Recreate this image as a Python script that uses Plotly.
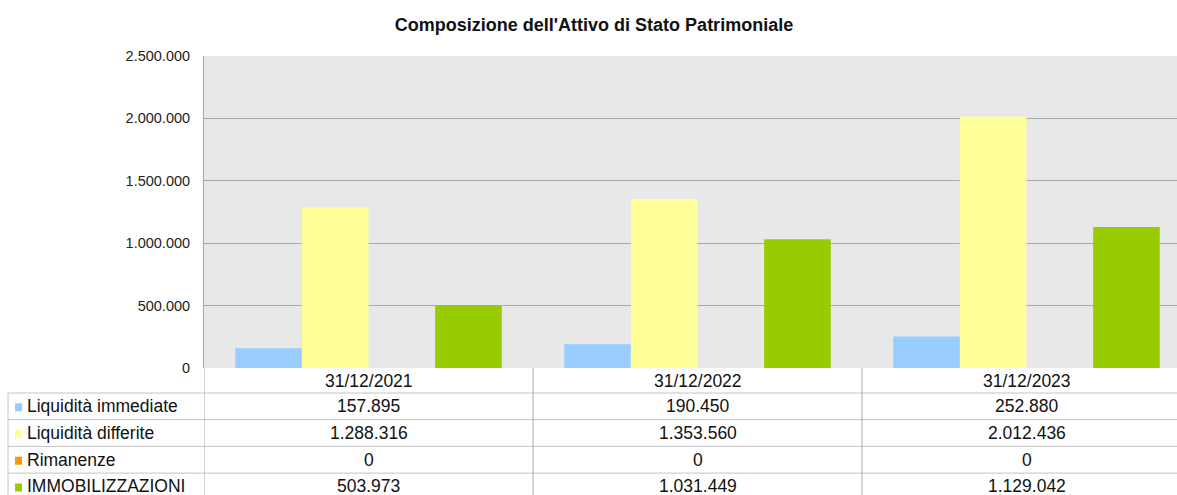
import plotly.graph_objects as go

categories = ["31/12/2021", "31/12/2022", "31/12/2023"]
series_names = ["Liquidità immediate", "Liquidità differite", "Rimanenze", "IMMOBILIZZAZIONI"]
liquidita_immediate = [157895, 190450, 252880]
liquidita_differite = [1288316, 1353560, 2012436]
rimanenze = [0, 0, 0]
immobilizzazioni = [503973, 1031449, 1129042]
series_values = [liquidita_immediate, liquidita_differite, rimanenze, immobilizzazioni]
colors = ["#99ccff", "#ffff99", "#ff9900", "#99cc00"]
y_ticks = [0, 500000, 1000000, 1500000, 2000000, 2500000]

W, H = 1177, 495
L, R, T, B = 204, 0, 56, 127
PW = W - L - R
PH = H - T - B
FONT = "Liberation Sans, Arial, sans-serif"


def fmt(v):
    return f"{v:,}".replace(",", ".")


def px_x(p):  # pixel x -> paper x
    return (p - L) / PW


def px_y(p):  # pixel y -> paper y
    return (H - B - p) / PH


fig = go.Figure()
for name, vals, col in zip(series_names, series_values, colors):
    fig.add_trace(go.Bar(
        x=list(range(len(categories))), y=vals, name=name,
        marker=dict(color=col, line=dict(width=0)),
        showlegend=False, hoverinfo="y+name",
    ))

cat_w = 329.0
xmax = (PW / cat_w) - 0.5

shapes = []
annotations = []
line_col = "#c4c4c4"
row_h = 26.7
header_bottom = 393
rows_top = [header_bottom + i * row_h for i in range(len(series_names))]

# header bottom line and row lines
for i in range(len(series_names) + 1):
    yy = header_bottom + i * row_h
    shapes.append(dict(type="line", xref="paper", yref="paper",
                       x0=px_x(8), x1=1, y0=px_y(yy), y1=px_y(yy),
                       line=dict(color=line_col, width=1)))
# left border of label column
shapes.append(dict(type="line", xref="paper", yref="paper",
                   x0=px_x(8), x1=px_x(8), y0=px_y(header_bottom), y1=px_y(H + 10),
                   line=dict(color=line_col, width=1)))
# column separators
for k in range(len(categories)):
    shapes.append(dict(type="line", xref="x", yref="paper",
                       x0=k - 0.5, x1=k - 0.5, y0=0, y1=px_y(H + 10),
                       line=dict(color="#a8a8a8", width=1)))

TFS = 17.5
# header labels
for k, c in enumerate(categories):
    annotations.append(dict(x=k, y=px_y(381), xref="x", yref="paper", text=c,
                            showarrow=False, xanchor="center", yanchor="middle",
                            borderpad=0,
                            font=dict(family=FONT, size=TFS, color="#111111")))

# rows
for i, (name, vals, col) in enumerate(zip(series_names, series_values, colors)):
    yc = rows_top[i] + row_h / 2
    shapes.append(dict(type="rect", xref="paper", yref="paper",
                       x0=px_x(15), x1=px_x(22), y0=px_y(yc - 3), y1=px_y(yc + 5),
                       fillcolor=col, line=dict(width=0)))
    annotations.append(dict(x=px_x(26), y=px_y(yc), xref="paper", yref="paper",
                            text=name, showarrow=False, xanchor="left", yanchor="middle",
                            borderpad=0,
                            font=dict(family=FONT, size=TFS, color="#111111")))
    for k, v in enumerate(vals):
        annotations.append(dict(x=k, y=px_y(yc), xref="x", yref="paper", text=fmt(v),
                                showarrow=False, xanchor="center", yanchor="middle",
                                borderpad=0,
                                font=dict(family=FONT, size=TFS, color="#111111")))

fig.update_layout(
    width=W, height=H,
    margin=dict(l=L, r=R, t=T, b=B, pad=0),
    paper_bgcolor="white", plot_bgcolor="#e8e8e8",
    barmode="group", bargap=0.19, bargroupgap=0,
    separators=",.",
    title=dict(text="<b>Composizione dell'Attivo di Stato Patrimoniale</b>",
               x=594 / W, xanchor="center", y=1 - 25 / H, yanchor="middle",
               xref="container", yref="container",
               font=dict(family=FONT, size=18, color="#111111")),
    xaxis=dict(range=[-0.5, xmax], showticklabels=False, showgrid=False,
               zeroline=False, showline=False, fixedrange=True),
    yaxis=dict(range=[0, 2500000], tickvals=y_ticks, tickformat=",.0f",
               showgrid=True, gridcolor="#a8a8a8", gridwidth=1,
               zeroline=False, showline=True, linecolor="#a8a8a8", linewidth=1,
               ticks="", ticklabelstandoff=10,
               tickfont=dict(family=FONT, size=14.5, color="#222222"), fixedrange=True),
    shapes=shapes, annotations=annotations,
)

fig.write_html(
    "out.html",
    config={"displayModeBar": False},
    post_script="document.body.style.margin='0';document.body.style.overflow='hidden';",
)
